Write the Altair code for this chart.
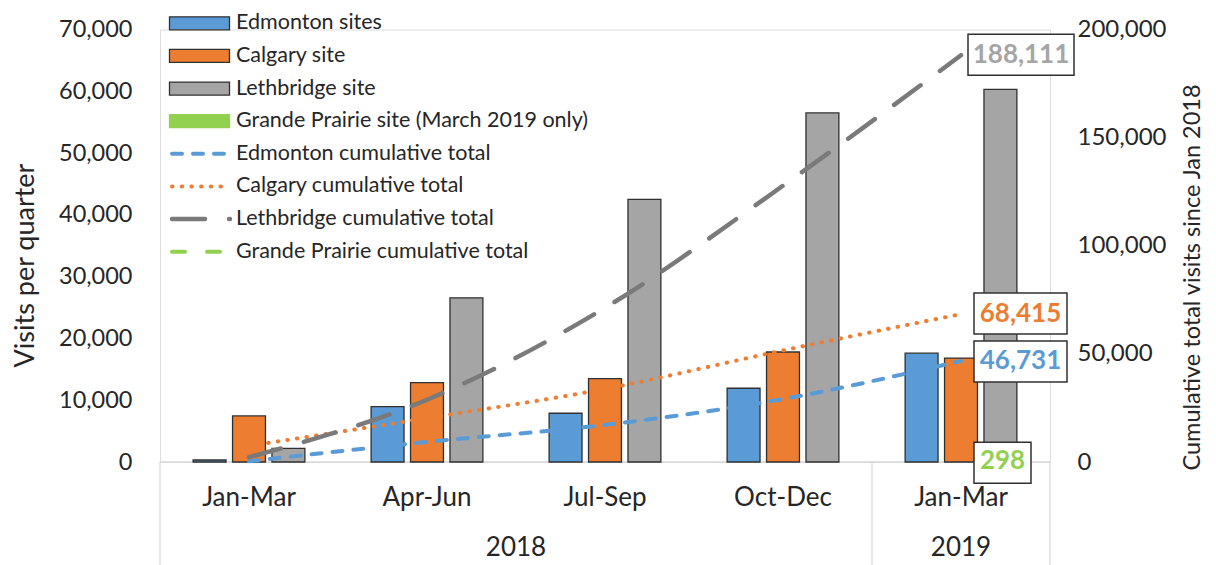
import altair as alt
import pandas as pd

# ---------------- data ----------------
quarters = ["Jan-Mar", "Apr-Jun", "Jul-Sep", "Oct-Dec", "Jan-Mar"]
years = ["2018", "2018", "2018", "2018", "2019"]

edmonton = [320, 8960, 7890, 11940, 17621]
calgary = [7450, 12850, 13500, 17800, 16815]
lethbridge = [2220, 26570, 42500, 56500, 60321]
grande_prairie = [None, None, None, None, 298]

cum_edmonton = [320, 9280, 17170, 29110, 46731]
cum_calgary = [7450, 20300, 33800, 51600, 68415]
cum_lethbridge = [2220, 28790, 71290, 127790, 188111]
cum_grande_prairie = [None, None, None, None, 298]

bar_series = ["Edmonton sites", "Calgary site", "Lethbridge site",
              "Grande Prairie site (March 2019 only)"]
line_series = ["Edmonton cumulative total", "Calgary cumulative total",
               "Lethbridge cumulative total", "Grande Prairie cumulative total"]

left_ticks = [0, 10000, 20000, 30000, 40000, 50000, 60000, 70000]
right_ticks = [0, 50000, 100000, 150000, 200000]

# ---------------- styles ----------------
bar_colors = ["#5B9BD5", "#ED7D31", "#A5A5A5", "#92D050"]
line_colors = ["#5B9BD5", "#ED7D31", "#7A7A7A", "#92D050"]
label_colors = ["#5B9BD5", "#ED7D31", "#A5A5A5", "#92D050"]
line_widths = [4, 4, 4.5, 4]
line_dashes = [[10, 11], [0.5, 9.2], [33, 24], [13, 22]]
box_paths = ["M13,-20H106V21H13Z", "M13,-21H106V20H13Z",
             "M7,-21H113V20H7Z", "M13,-19H70V22H13Z"]
box_text_dx = [59.5, 59.5, 60, 41.5]

W, H = 890, 432.5
FONT = "Lato"
TXT = "#262626"

keys = [f"{y} {q}" for q, y in zip(quarters, years)]
slot_order = bar_series[:3]

# bars table
bar_vals = [edmonton, calgary, lethbridge, grande_prairie]
rows = []
for s, vals in zip(bar_series, bar_vals):
    slot = s if s in slot_order else "Lethbridge site"
    for k, v in zip(keys, vals):
        if v is not None:
            rows.append({"key": k, "series": s, "slot": slot, "value": v})
bars_df = pd.DataFrame(rows)

x_enc = alt.X("key:N", sort=keys, scale=alt.Scale(paddingInner=0, paddingOuter=0), axis=None)

bars = alt.Chart(bars_df).mark_bar(stroke="#303030", strokeWidth=1.3).encode(
    x=x_enc,
    xOffset=alt.XOffset("slot:N", sort=slot_order,
                        scale=alt.Scale(paddingInner=0.165, paddingOuter=0.84)),
    y=alt.Y("value:Q", scale=alt.Scale(domain=[0, 70000]), stack=None,
            title="Visits per quarter",
            axis=alt.Axis(values=left_ticks, format=",.0f", grid=False, domain=False,
                          ticks=False, labelPadding=28, labelFontSize=23.5,
                          labelColor=TXT, labelFont=FONT, titleFont=FONT,
                          titleFontSize=27, titleFontWeight="normal",
                          titleColor=TXT, titlePadding=19, titleY=235.5)),
    color=alt.Color("series:N", scale=alt.Scale(domain=bar_series, range=bar_colors),
                    legend=None),
)

right_axis = alt.Axis(orient="right", values=right_ticks, format=",.0f", grid=False,
                      domain=False, ticks=False, labelPadding=27, labelFontSize=24,
                      labelColor=TXT, labelFont=FONT, titleFont=FONT, titleFontSize=23.5,
                      titleFontWeight="normal", titleColor=TXT, titlePadding=15,
                      titleAngle=270, titleBaseline="top", titleY=247.5)

cum_vals = [cum_edmonton, cum_calgary, cum_lethbridge, cum_grande_prairie]
right_layers = []
for i, (s, vals) in enumerate(zip(line_series, cum_vals)):
    df = pd.DataFrame([{"key": k, "value": v, "series": s}
                       for k, v in zip(keys, vals) if v is not None])
    right_layers.append(
        alt.Chart(df).mark_line(color=line_colors[i], strokeWidth=line_widths[i],
                                strokeDash=line_dashes[i], strokeCap="round",
                                interpolate="monotone").encode(
            x=x_enc,
            y=alt.Y("value:Q", scale=alt.Scale(domain=[0, 200000]),
                    title="Cumulative total visits since Jan 2018", axis=right_axis)))

# end labels
for i, (s, vals) in enumerate(zip(line_series, cum_vals)):
    last = vals[-1]
    df = pd.DataFrame([{"key": keys[-1], "value": last, "label": f"{last:,}"}])
    yv = alt.Y("value:Q", scale=alt.Scale(domain=[0, 200000]),
               title="Cumulative total visits since Jan 2018", axis=right_axis)
    right_layers.append(
        alt.Chart(df).mark_point(shape=box_paths[i], size=4, filled=True, fill="white",
                                 stroke="#303030", strokeWidth=1.5, opacity=1).encode(
            x=x_enc, y=yv))
    right_layers.append(
        alt.Chart(df).mark_text(dx=box_text_dx[i], font=FONT, fontSize=26,
                                fontWeight="bold", color=label_colors[i],
                                baseline="middle", align="center").encode(
            x=x_enc, y=yv, text="label:N"))

right_layer = alt.layer(*right_layers)

# x-axis frame and labels
q_df = pd.DataFrame({"key": keys, "label": quarters})
frame_top = alt.Chart(q_df.head(1)).mark_rule(color="#D9D9D9", strokeWidth=1.3).encode(
    x=alt.value(0), x2=alt.value(W), y=alt.value(H))
sep_df = pd.DataFrame({"key": [keys[0], keys[4]]})
seps_left = alt.Chart(sep_df).mark_rule(color="#D9D9D9", strokeWidth=1.3).encode(
    x=alt.X("key:N", sort=keys, bandPosition=0, axis=None),
    y=alt.value(H), y2=alt.value(H + 110))
seps_right = alt.Chart(sep_df.tail(1)).mark_rule(color="#D9D9D9", strokeWidth=1.3).encode(
    x=alt.X("key:N", sort=keys, bandPosition=1, axis=None),
    y=alt.value(H), y2=alt.value(H + 110))
q_text = alt.Chart(q_df).mark_text(font=FONT, fontSize=26, color=TXT,
                                   baseline="middle").encode(
    x=x_enc, y=alt.value(H + 36), text="label:N")
y18 = alt.Chart(pd.DataFrame({"key": [keys[2]], "label": [years[0]]})).mark_text(
    font=FONT, fontSize=26, color=TXT, baseline="middle").encode(
    x=alt.X("key:N", sort=keys, bandPosition=0, axis=None),
    y=alt.value(H + 86), text="label:N")
y19 = alt.Chart(pd.DataFrame({"key": [keys[4]], "label": [years[4]]})).mark_text(
    font=FONT, fontSize=26, color=TXT, baseline="middle").encode(
    x=x_enc, y=alt.value(H + 86), text="label:N")

# legend
leg_labels = bar_series + line_series
leg_df = pd.DataFrame({"label": leg_labels})
leg_y = alt.Y("label:N", sort=leg_labels,
              scale=alt.Scale(type="point", range=[-6.2, 222.2], padding=0), axis=None)
leg_layers = [alt.Chart(leg_df).mark_text(align="left", baseline="middle", font=FONT,
                                          fontSize=21.5, color=TXT).encode(
    x=alt.value(76), y=leg_y, text="label:N")]
for i, s in enumerate(bar_series):
    leg_layers.append(
        alt.Chart(leg_df).transform_filter(alt.datum.label == s).mark_point(
            shape="M-30,-6.5H30V6.5H-30Z", size=4, filled=True, fill=bar_colors[i],
            stroke="#303030" if i < 3 else bar_colors[i], strokeWidth=1.3,
            opacity=1).encode(x=alt.value(39.5), y=leg_y))
for i, s in enumerate(line_series):
    leg_layers.append(
        alt.Chart(leg_df).transform_filter(alt.datum.label == s).mark_rule(
            color=line_colors[i], strokeWidth=line_widths[i], strokeDash=line_dashes[i],
            strokeCap="round").encode(x=alt.value(12), x2=alt.value(70), y=leg_y))
legend_layer = alt.layer(*leg_layers)

chart = alt.layer(
    frame_top, seps_left, seps_right, bars, right_layer, q_text, y18, y19, legend_layer
).resolve_scale(y="independent").properties(
    width=W, height=H,
    autosize=alt.AutoSizeParams(type="none"),
    padding={"left": 152, "top": 21.5, "right": 158, "bottom": 103},
).configure_view(stroke=None).configure(font=FONT, background="white")

chart.save("out.html", embed_options={"renderer": "svg", "actions": False})
